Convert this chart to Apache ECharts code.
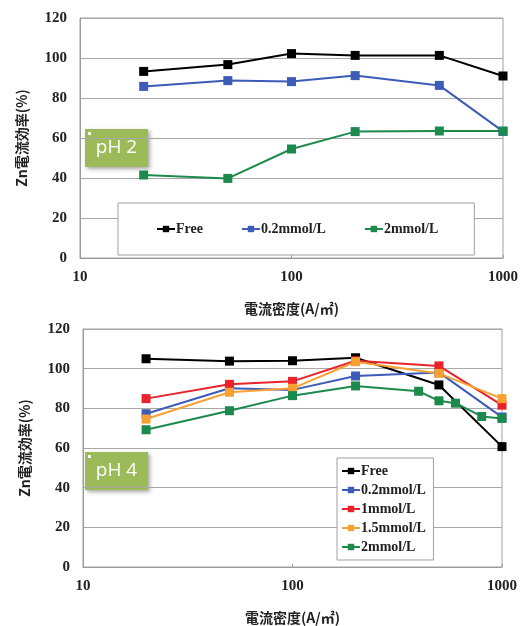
<!DOCTYPE html>
<html>
<head>
<meta charset="utf-8">
<script src="https://cdn.jsdelivr.net/npm/echarts@6/dist/echarts.min.js"></script>
<style>
  html, body { margin: 0; padding: 0; background: #fff; }
  #chart { width: 527px; height: 626px; }
</style>
</head>
<body>
<div id="chart"></div>
<script>
// Current density (A/m²) sampled in the experiments
const densityStd = [20, 50, 100, 200, 500, 1000];
const densityFine = [20, 50, 100, 200, 400, 500, 600, 800, 1000];

// pH 2 — Zn current efficiency (%)
const ph2Free = [93.3, 96.7, 102.2, 101.3, 101.3, 91.0];
const ph2Add02 = [85.8, 88.7, 88.2, 91.2, 86.3, 63.3];
const ph2Add2 = [41.5, 39.8, 54.5, 63.2, 63.5, 63.5];

// pH 4 — Zn current efficiency (%)
const ph4Free = [105.0, 103.8, 104.0, 105.5, 91.8, 60.7];
const ph4Add02 = [77.3, 90.1, 89.3, 96.3, 98.1, 75.6];
const ph4Add1 = [84.9, 92.1, 93.6, 104.0, 101.4, 81.6];
const ph4Add15 = [74.6, 88.1, 90.1, 103.5, 97.6, 84.9];
const ph4Add2 = [69.2, 78.8, 86.4, 91.3, 88.6, 83.8, 82.6, 75.9, 74.9];

const seriesNamesTop = ['Free', '0.2mmol/L', '2mmol/L'];
const seriesNamesBottom = ['Free', '0.2mmol/L', '1mmol/L', '1.5mmol/L', '2mmol/L'];
const yTicks = [0, 20, 40, 60, 80, 100, 120];
const xTicks = [10, 100, 1000];
const panelLabels = ['pH 2', 'pH 4'];

const C = {
  free: '#000000',
  c02: '#3c5cb8',
  c1: '#e8232b',
  c15: '#f8a132',
  c2: '#1c8a4c'
};

const serif = '"Liberation Serif", "Times New Roman", serif';
const cjk = '"Noto Sans CJK JP", "Noto Sans CJK SC", sans-serif';

function pairs(xs, ys) { return xs.map((x, i) => [x, ys[i]]); }

function xAxisFor(grid) {
  return {
    type: 'log', logBase: 10, gridIndex: grid,
    min: xTicks[0], max: xTicks[xTicks.length - 1],
    name: '電流密度(A/㎡)', nameLocation: 'middle', nameGap: 44,
    nameTextStyle: { fontFamily: cjk, fontWeight: 'bold', fontSize: 14, color: '#222' },
    axisLine: { show: true, lineStyle: { color: '#9a9a9a', width: 1 } },
    axisTick: { show: true, inside: true, length: 3, lineStyle: { color: '#9a9a9a' } },
    minorTick: { show: false },
    splitLine: { show: false },
    axisLabel: {
      fontFamily: serif, fontWeight: 'bold', fontSize: 15, color: '#222', margin: 12,
      formatter: v => String(Math.round(v))
    }
  };
}

function yAxisFor(grid) {
  return {
    type: 'value', gridIndex: grid,
    min: yTicks[0], max: yTicks[yTicks.length - 1], interval: 20,
    name: 'Zn電流効率(%)', nameLocation: 'middle', nameGap: 51, nameRotate: 90,
    nameTextStyle: { fontFamily: cjk, fontWeight: 'bold', fontSize: 14, color: '#222' },
    axisLine: { show: true, lineStyle: { color: '#9a9a9a', width: 1 } },
    axisTick: { show: false },
    splitLine: { show: true, lineStyle: { color: '#a8a8a8', width: 1 } },
    axisLabel: { fontFamily: serif, fontWeight: 'bold', fontSize: 15, color: '#222', margin: 13 }
  };
}

function line(name, data, color, grid) {
  return {
    type: 'line', name, data,
    xAxisIndex: grid, yAxisIndex: grid,
    symbol: 'rect', symbolSize: 9,
    showAllSymbol: true,
    lineStyle: { color, width: 2 },
    itemStyle: { color },
    animation: false
  };
}

function phBox(label, left, top) {
  return {
    type: 'group', left, top,
    children: [
      {
        type: 'rect', shape: { x: 0, y: 0, width: 63, height: 38 },
        style: { fill: '#9bbb59', shadowBlur: 4, shadowOffsetX: 2, shadowOffsetY: 2, shadowColor: 'rgba(0,0,0,0.35)' }
      },
      { type: 'rect', shape: { x: 3, y: 3, width: 3, height: 3 }, style: { fill: '#ffffff' } },
      {
        type: 'text', x: 31.5, y: 19,
        style: { text: label, fill: '#ffffff', font: '19px "Open Sans", "Noto Sans", sans-serif', align: 'center', verticalAlign: 'middle' }
      }
    ]
  };
}

const chart = echarts.init(document.getElementById('chart'), null, { renderer: 'canvas' });
chart.setOption({
  backgroundColor: '#ffffff',
  animation: false,
  grid: [
    { left: 80, right: 24, top: 18, height: 240, show: true, borderColor: '#a0a0a0', borderWidth: 1 },
    { left: 83, right: 25, top: 329, height: 239, show: true, borderColor: '#a0a0a0', borderWidth: 1 }
  ],
  xAxis: [xAxisFor(0), xAxisFor(1)],
  yAxis: [yAxisFor(0), yAxisFor(1)],
  legend: [
    {
      data: seriesNamesTop,
      left: 118, top: 203, width: 356, height: 52,
      orient: 'horizontal',
      padding: [19, 36, 19, 38],
      itemGap: 38, itemWidth: 18, itemHeight: 8,
      backgroundColor: '#ffffff', borderColor: '#a0a0a0', borderWidth: 1,
      textStyle: { fontFamily: serif, fontWeight: 'bold', fontSize: 14, color: '#222', padding: [0, 0, 0, -4] }
    },
    {
      data: seriesNamesBottom.map(n => n + ' '),
      left: 337, top: 458,
      orient: 'vertical',
      padding: [6, 4, 6, 4],
      itemGap: 5, itemWidth: 18, itemHeight: 8,
      backgroundColor: '#ffffff', borderColor: '#a0a0a0', borderWidth: 1,
      textStyle: { fontFamily: serif, fontWeight: 'bold', fontSize: 14, color: '#222', padding: [0, 0, 0, -4] }
    }
  ],
  series: [
    line(seriesNamesTop[0], pairs(densityStd, ph2Free), C.free, 0),
    line(seriesNamesTop[1], pairs(densityStd, ph2Add02), C.c02, 0),
    line(seriesNamesTop[2], pairs(densityStd, ph2Add2), C.c2, 0),
    line(seriesNamesBottom[0] + ' ', pairs(densityStd, ph4Free), C.free, 1),
    line(seriesNamesBottom[1] + ' ', pairs(densityStd, ph4Add02), C.c02, 1),
    line(seriesNamesBottom[2] + ' ', pairs(densityStd, ph4Add1), C.c1, 1),
    line(seriesNamesBottom[3] + ' ', pairs(densityStd, ph4Add15), C.c15, 1),
    line(seriesNamesBottom[4] + ' ', pairs(densityFine, ph4Add2), C.c2, 1)
  ],
  graphic: [
    phBox(panelLabels[0], 85, 129),
    phBox(panelLabels[1], 85, 452)
  ]
});
</script>
</body>
</html>
